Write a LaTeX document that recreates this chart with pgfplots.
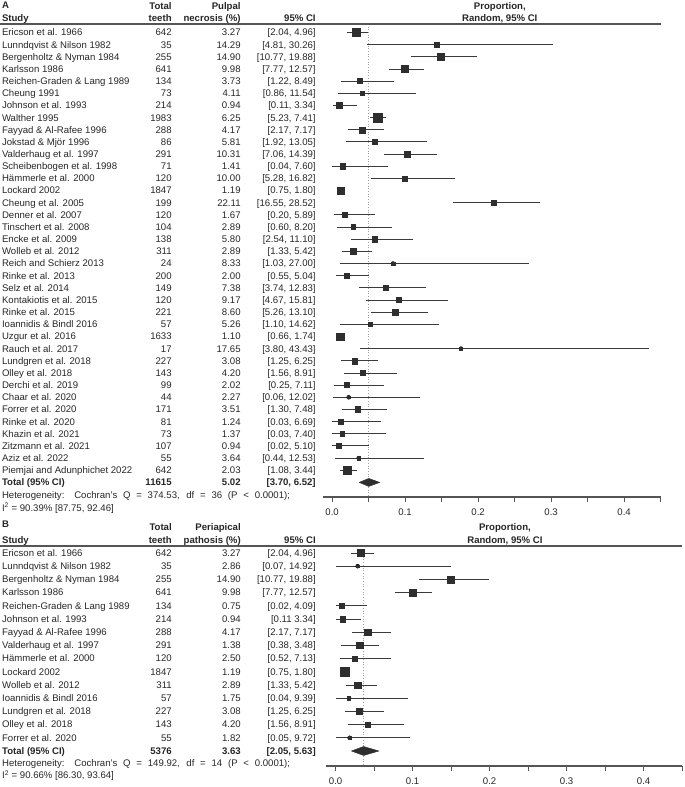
\documentclass[border=0pt]{standalone}
\usepackage{pgfplots}
\usepackage{pgfplotstable}
\pgfplotsset{compat=1.18}
\usepackage{fontspec}
\setmainfont{Liberation Sans}
\definecolor{txt}{HTML}{262626}
\definecolor{ln}{HTML}{3A3A3A}
\definecolor{mk}{HTML}{2E2E2E}
\definecolor{ax}{HTML}{555555}
\newcommand\fs{\fontsize{9.6bp}{11bp}\selectfont}

\pgfplotstableread[col sep=semicolon]{
row;study;n;pct;ci;est;lo;hi;ms
1;Ericson et al. 1966;642;3.27;[2.04, 4.96];0.0327;0.0204;0.0496;4.0
2;Lunndqvist \& Nilson 1982;35;14.29;[4.81, 30.26];0.1429;0.0481;0.3026;2.6
3;Bergenholtz \& Nyman 1984;255;14.90;[10.77, 19.88];0.1490;0.1077;0.1988;3.3
4;Karlsson 1986;641;9.98;[7.77, 12.57];0.0998;0.0777;0.1257;3.7
5;Reichen-Graden \& Lang 1989;134;3.73;[1.22, 8.49];0.0373;0.0122;0.0849;2.5
6;Cheung 1991;73;4.11;[0.86, 11.54];0.0411;0.0086;0.1154;2.2
7;Johnson et al. 1993;214;0.94;[0.11, 3.34];0.0094;0.0011;0.0334;3.0
8;Walther 1995;1983;6.25;[5.23, 7.41];0.0625;0.0523;0.0741;4.3
9;Fayyad \& Al-Rafee 1996;288;4.17;[2.17, 7.17];0.0417;0.0217;0.0717;3.0
10;Jokstad \& Mjör 1996;86;5.81;[1.92, 13.05];0.0581;0.0192;0.1305;2.5
11;Valderhaug et al. 1997;291;10.31;[7.06, 14.39];0.1031;0.0706;0.1439;3.3
12;Scheibenbogen et al. 1998;71;1.41;[0.04, 7.60];0.0141;0.0004;0.0760;2.6
13;Hämmerle et al. 2000;120;10.00;[5.28, 16.82];0.1000;0.0528;0.1682;2.5
14;Lockard 2002;1847;1.19;[0.75, 1.80];0.0119;0.0075;0.0180;3.7
15;Cheung et al. 2005;199;22.11;[16.55, 28.52];0.2211;0.1655;0.2852;2.4
16;Denner et al. 2007;120;1.67;[0.20, 5.89];0.0167;0.0020;0.0589;2.5
17;Tinschert et al. 2008;104;2.89;[0.60, 8.20];0.0289;0.0060;0.0820;2.4
18;Encke et al. 2009;138;5.80;[2.54, 11.10];0.0580;0.0254;0.1110;2.6
19;Wolleb et al. 2012;311;2.89;[1.33, 5.42];0.0289;0.0133;0.0542;3.0
20;Reich and Schierz 2013;24;8.33;[1.03, 27.00];0.0833;0.0103;0.2700;1.8
21;Rinke et al. 2013;200;2.00;[0.55, 5.04];0.0200;0.0055;0.0504;2.8
22;Selz et al. 2014;149;7.38;[3.74, 12.83];0.0738;0.0374;0.1283;2.7
23;Kontakiotis et al. 2015;120;9.17;[4.67, 15.81];0.0917;0.0467;0.1581;2.6
24;Rinke et al. 2015;221;8.60;[5.26, 13.10];0.0860;0.0526;0.1310;2.9
25;Ioannidis \& Bindl 2016;57;5.26;[1.10, 14.62];0.0526;0.0110;0.1462;2.1
26;Uzgur et al. 2016;1633;1.10;[0.66, 1.74];0.0110;0.0066;0.0174;3.7
27;Rauch et al. 2017;17;17.65;[3.80, 43.43];0.1765;0.0380;0.4343;1.5
28;Lundgren et al. 2018;227;3.08;[1.25, 6.25];0.0308;0.0125;0.0625;2.9
29;Olley et al. 2018;143;4.20;[1.56, 8.91];0.0420;0.0156;0.0891;2.7
30;Derchi et al. 2019;99;2.02;[0.25, 7.11];0.0202;0.0025;0.0711;2.5
31;Chaar et al. 2020;44;2.27;[0.06, 12.02];0.0227;0.0006;0.1202;1.4
32;Forrer et al. 2020;171;3.51;[1.30, 7.48];0.0351;0.0130;0.0748;2.9
33;Rinke et al. 2020;81;1.24;[0.03, 6.69];0.0124;0.0003;0.0669;2.5
34;Khazin et al. 2021;73;1.37;[0.03, 7.40];0.0137;0.0003;0.0740;2.3
35;Zitzmann et al. 2021;107;0.94;[0.02, 5.10];0.0094;0.0002;0.0510;2.4
36;Aziz et al. 2022;55;3.64;[0.44, 12.53];0.0364;0.0044;0.1253;1.9
37;Piemjai and Adunphichet 2022;642;2.03;[1.08, 3.44];0.0203;0.0108;0.0344;3.8
}\tabA

\pgfplotstableread[col sep=semicolon]{
row;study;n;pct;ci;est;lo;hi;ms
1;Ericson et al. 1966;642;3.27;[2.04, 4.96];0.0327;0.0204;0.0496;3.7
2;Lunndqvist \& Nilson 1982;35;2.86;[0.07, 14.92];0.0286;0.0007;0.1492;1.3
3;Bergenholtz \& Nyman 1984;255;14.90;[10.77, 19.88];0.1490;0.1077;0.1988;3.4
4;Karlsson 1986;641;9.98;[7.77, 12.57];0.0998;0.0777;0.1257;3.7
5;Reichen-Graden \& Lang 1989;134;0.75;[0.02, 4.09];0.0075;0.0002;0.0409;2.7
6;Johnson et al. 1993;214;0.94;[0.11  3.34];0.0094;0.0011;0.0334;2.8
7;Fayyad \& Al-Rafee 1996;288;4.17;[2.17, 7.17];0.0417;0.0217;0.0717;3.4
8;Valderhaug et al. 1997;291;1.38;[0.38, 3.48];0.0316;0.0065;0.0560;3.3
9;Hämmerle et al. 2000;120;2.50;[0.52, 7.13];0.0250;0.0052;0.0713;2.5
10;Lockard 2002;1847;1.19;[0.75, 1.80];0.0119;0.0075;0.0180;4.6
11;Wolleb et al. 2012;311;2.89;[1.33, 5.42];0.0289;0.0133;0.0542;3.3
12;Ioannidis \& Bindl 2016;57;1.75;[0.04, 9.39];0.0175;0.0004;0.0939;1.6
13;Lundgren et al. 2018;227;3.08;[1.25, 6.25];0.0308;0.0125;0.0625;2.8
14;Olley et al. 2018;143;4.20;[1.56, 8.91];0.0420;0.0156;0.0891;2.7
15;Forrer et al. 2020;55;1.82;[0.05, 9.72];0.0182;0.0005;0.0972;1.8
}\tabB

\tikzset{
  lt/.style={anchor=base west, inner sep=0pt, yshift=-3.4bp, font=\fs, text=txt},
  rt/.style={anchor=base east, inner sep=0pt, yshift=-3.4bp, font=\fs, text=txt},
  ct/.style={anchor=base, inner sep=0pt, yshift=-3.4bp, font=\fs, text=txt},
  bl/.style={font=\fs\bfseries},
}

\pgfplotsset{fp/.style={
  scale only axis, clip=false, anchor=south west,
  y dir=reverse,
  axis x line=bottom, axis y line=none,
  axis line style={-, line width=1.3bp, draw=ax},
  xmin=-0.0125, xmax=0.45,
  xtick={0,0.1,0.2,0.3,0.4},
  minor xtick={0.05,0.15,0.25,0.35,0.45},
  tick align=outside,
  major tick length=5bp, minor tick length=5bp,
  every tick/.append style={line width=1.1bp, draw=ax},
  every minor tick/.append style={line width=1.1bp, draw=ax},
  xticklabel style={font=\fs, text=txt, yshift=-3bp},
  /pgf/number format/fixed, /pgf/number format/fixed zerofill,
  /pgf/number format/precision=1, /pgf/number format/assume math mode=true,
}}

\newcommand\textcol[4]{%
  \addplot[draw=none, mark=none, point meta=explicit symbolic, nodes near coords,
    nodes near coords style={#4}] table[x expr=#2, y=row, meta=#3]{#1};
}
\newcommand\forest[1]{%
  \addplot[only marks, mark=none, error bars/.cd, x dir=both, x explicit, error mark=none,
    error bar style={line width=0.9bp, draw=ln}]
    table[x=est, y=row, x error plus expr={\thisrow{hi}-\thisrow{est}},
      x error minus expr={\thisrow{est}-\thisrow{lo}}]{#1};
  \addplot[scatter, only marks, mark=square*, point meta=\thisrow{ms},
    scatter/use mapped color={draw=mk, fill=mk},
    visualization depends on={\thisrow{ms}\as\msz},
    scatter/@pre marker code/.append style={/tikz/mark size=\msz}]
    table[x=est, y=row]{#1};
}

\begin{document}
\fs
\begin{tikzpicture}
\useasboundingbox (0,0) rectangle (685bp,787bp);

% ---------------- Panel A ----------------
\begin{axis}[fp, at={(323bp,290bp)}, width=337.6bp, height=473bp, ymin=0.301, ymax=39.2]
  \addplot[dotted, line width=0.7bp, draw=gray!75] coordinates {(0.0502,0.301) (0.0502,39.2)};
  \forest{\tabA}
  \addplot[fill=mk, draw=mk] coordinates {(0.0370,38) (0.0502,37.67) (0.0652,38) (0.0502,38.33)} -- cycle;
  \textcol{\tabA}{-0.4525}{study}{lt}
  \textcol{\tabA}{-0.2196}{n}{rt}
  \textcol{\tabA}{-0.1251}{pct}{rt}
  \textcol{\tabA}{-0.0223}{ci}{rt}
  \draw[line width=1.4bp, draw=ax] (axis cs:-0.4552,0.301) -- (axis cs:0.45,0.301);
  \node[lt, bl] at (axis cs:-0.4525,-1.25) {A};
  \node[rt, bl] at (axis cs:-0.2196,-1.15) {Total};
  \node[rt, bl] at (axis cs:-0.1251,-1.15) {Pulpal};
  \node[ct, bl] at (axis cs:0.2297,-1.15) {Proportion,};
  \node[lt, bl] at (axis cs:-0.4525,-0.19) {Study};
  \node[rt, bl] at (axis cs:-0.2196,-0.19) {teeth};
  \node[rt, bl] at (axis cs:-0.1251,-0.19) {necrosis (\%)};
  \node[rt, bl] at (axis cs:-0.0223,-0.19) {95\% CI};
  \node[ct, bl] at (axis cs:0.2297,-0.19) {Random, 95\% CI};
  \node[lt, bl] at (axis cs:-0.4525,38) {Total (95\% CI)};
  \node[rt, bl] at (axis cs:-0.2196,38) {11615};
  \node[rt, bl] at (axis cs:-0.1251,38) {5.02};
  \node[rt, bl] at (axis cs:-0.0223,38) {[3.70, 6.52]};
  \node[lt] at (axis cs:-0.4525,39.07) {\makebox[288bp][s]{Heterogeneity: Cochran's Q = 374.53, df = 36 (P < 0.0001);}};
  \node[lt] at (axis cs:-0.4525,40.1) {I\textsuperscript{2} = 90.39\% [87.75, 92.46]};
\end{axis}

% ---------------- Panel B ----------------
\begin{axis}[fp, at={(326bp,21bp)}, width=356.1bp, height=220bp, ymin=0.47, ymax=17.137]
  \addplot[dotted, line width=0.7bp, draw=gray!75] coordinates {(0.0363,0.47) (0.0363,17.137)};
  \forest{\tabB}
  \addplot[fill=mk, draw=mk] coordinates {(0.0205,16) (0.0363,15.66) (0.0563,16) (0.0363,16.34)} -- cycle;
  \textcol{\tabB}{-0.4334}{study}{lt}
  \textcol{\tabB}{-0.2126}{n}{rt}
  \textcol{\tabB}{-0.1230}{pct}{rt}
  \textcol{\tabB}{-0.0256}{ci}{rt}
  \draw[line width=1.4bp, draw=ax] (axis cs:-0.4360,0.47) -- (axis cs:0.45,0.47);
  \node[lt, bl] at (axis cs:-0.4334,-1.2) {B};
  \node[rt, bl] at (axis cs:-0.2126,-0.93) {Total};
  \node[rt, bl] at (axis cs:-0.1230,-0.93) {Periapical};
  \node[ct, bl] at (axis cs:0.2199,-0.93) {Proportion,};
  \node[lt, bl] at (axis cs:-0.4334,0.02) {Study};
  \node[rt, bl] at (axis cs:-0.2126,0.02) {teeth};
  \node[rt, bl] at (axis cs:-0.1230,0.02) {pathosis (\%)};
  \node[rt, bl] at (axis cs:-0.0256,0.02) {95\% CI};
  \node[ct, bl] at (axis cs:0.2199,0.02) {Random, 95\% CI};
  \node[lt, bl] at (axis cs:-0.4334,16) {Total (95\% CI)};
  \node[rt, bl] at (axis cs:-0.2126,16) {5376};
  \node[rt, bl] at (axis cs:-0.1230,16) {3.63};
  \node[rt, bl] at (axis cs:-0.0256,16) {[2.05, 5.63]};
  \node[lt] at (axis cs:-0.4334,16.9) {\makebox[288bp][s]{Heterogeneity: Cochran's Q = 149.92, df = 14 (P < 0.0001);}};
  \node[lt] at (axis cs:-0.4334,17.86) {I\textsuperscript{2} = 90.66\% [86.30, 93.64]};
\end{axis}
\end{tikzpicture}
\end{document}
